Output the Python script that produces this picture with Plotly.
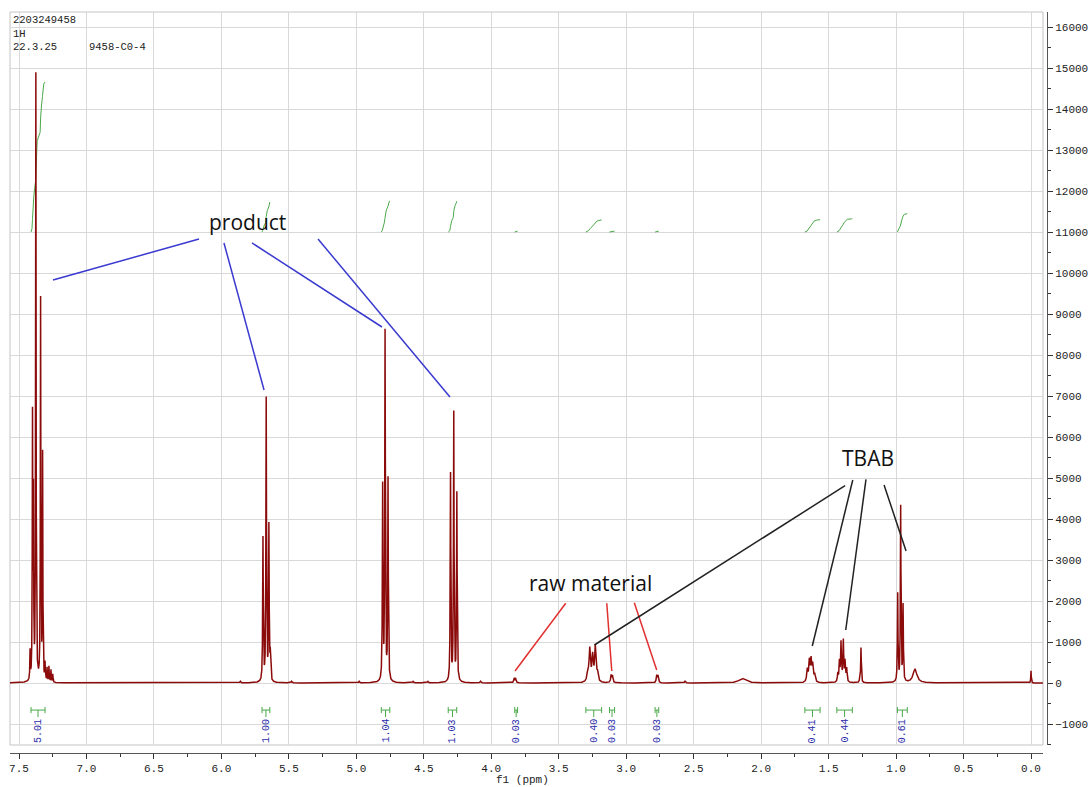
import numpy as np
import plotly.graph_objects as go

# ---------------- spectrum peak list: position (ppm), height, line width (ppm) ----------------
aromatic_ppm = [7.418, 7.400, 7.393, 7.375, 7.340, 7.325, 7.307, 7.292, 7.278, 7.263, 7.250]
aromatic_h = [700, 6300, 4300, 14800, 9300, 5500, 420, 330, 380, 300, 200]

ch_ppm = [5.692, 5.668, 5.648, 5.638]
ch_h = [3500, 6900, 3780, 600]

och2_a_ppm = [4.805, 4.787, 4.765]
och2_a_h = [4740, 8500, 4920]

och2_b_ppm = [4.302, 4.278, 4.255]
och2_b_h = [5070, 6550, 4590]

raw_ppm = [3.830, 3.820, 3.112, 3.102, 2.774, 2.764, 2.564]
raw_h = [110, 110, 180, 170, 180, 170, 50]

ncH2_ppm = [3.285, 3.270, 3.249, 3.229, 3.213]
ncH2_h = [250, 790, 620, 850, 200]

tbab_a_ppm = [1.658, 1.643, 1.630, 1.618, 1.603]
tbab_a_h = [300, 500, 520, 400, 180]

tbab_b_ppm = [1.432, 1.420, 1.408, 1.391, 1.378, 1.366]
tbab_b_h = [200, 480, 950, 1000, 480, 320]

ch3_ppm = [1.268, 1.260, 0.988, 0.966, 0.948]
ch3_h = [150, 850, 2150, 4280, 1850]

broad_ppm = [0.860, 2.140]
broad_h = [330, 110]

tms_ppm = [0.0]
tms_h = [300]

minor_ppm = [5.86, 5.48, 4.98, 4.58, 4.47, 4.08]
minor_h = [40, 40, 40, 35, 35, 40]

# ---------------- integration regions ----------------
int_from = [7.411, 5.699, 4.815, 4.319, 3.826, 3.299, 3.124, 2.786, 1.676, 1.439, 0.990]
int_to = [7.307, 5.641, 4.752, 4.256, 3.805, 3.182, 3.086, 2.759, 1.563, 1.324, 0.917]
int_val = [5.01, 1.00, 1.04, 1.03, 0.03, 0.40, 0.03, 0.03, 0.41, 0.44, 0.61]

# ---------------- axes ----------------
X_LEFT, X_RIGHT = 7.5667, -0.0889
Y_LOW, Y_HIGH = -1512, 16366

groups = [
    (aromatic_ppm, aromatic_h, 0.004),
    (ch_ppm, ch_h, 0.005),
    (och2_a_ppm, och2_a_h, 0.005),
    (och2_b_ppm, och2_b_h, 0.005),
    (raw_ppm, raw_h, 0.008),
    (ncH2_ppm, ncH2_h, 0.012),
    (tbab_a_ppm, tbab_a_h, 0.010),
    (tbab_b_ppm, tbab_b_h, 0.007),
    (ch3_ppm, ch3_h, 0.005),
    (broad_ppm[:1], broad_h[:1], 0.035),
    (broad_ppm[1:], broad_h[1:], 0.060),
    (tms_ppm, tms_h, 0.004),
    (minor_ppm, minor_h, 0.008),
]

ppm = np.arange(X_LEFT, X_RIGHT, -0.0002)
spec = np.zeros_like(ppm)
for pos, hts, w in groups:
    for p, h in zip(pos, hts):
        spec += h / (1.0 + ((ppm - p) / (w / 2.0)) ** 2)

fig = go.Figure()

# integral curves (each starts from a common offset)
INT_BASE = 11000
INT_SCALE = 730
for a, b, v in zip(int_from, int_to, int_val):
    m = (ppm <= a) & (ppm >= b)
    cs = np.cumsum(spec[m])
    cs = cs / cs[-1]
    fig.add_trace(go.Scatter(x=ppm[m], y=INT_BASE + INT_SCALE * v * cs, mode="lines",
                             line=dict(color="#4aa84a", width=1), hoverinfo="skip"))

# spectrum
fig.add_trace(go.Scatter(x=ppm, y=spec, mode="lines",
                         line=dict(color="#8b0a0a", width=1.5), hoverinfo="skip"))

# integration brackets below the baseline
BR_Y, BR_TICK, BR_STEM, LBL_Y = -660, 75, -830, -1171
bx, by = [], []
for a, b in zip(int_from, int_to):
    c = (a + b) / 2
    bx += [a, a, None, a, b, None, b, b, None, c, c, None]
    by += [BR_Y - BR_TICK, BR_Y + BR_TICK, None, BR_Y, BR_Y, None,
           BR_Y - BR_TICK, BR_Y + BR_TICK, None, BR_Y, BR_STEM, None]
fig.add_trace(go.Scatter(x=bx, y=by, mode="lines", line=dict(color="#4aa84a", width=1),
                         hoverinfo="skip"))

annotations = []
for a, b, v in zip(int_from, int_to, int_val):
    annotations.append(dict(x=(a + b) / 2, y=LBL_Y, xref="x", yref="y", text=f"{v:.2f}",
                            textangle=-90, showarrow=False,
                            font=dict(family="Liberation Mono", size=10, color="#2b2bab")))

# callout lines
callouts = [
    ("#3a3ad0", [(6.166, 10829, 7.248, 9829), (5.981, 10732, 5.684, 7146),
                 (5.773, 10732, 4.810, 8683), (5.284, 10829, 4.306, 6976)]),
    ("#e03030", [(3.448, 1944, 3.824, 293), (3.144, 1944, 3.107, 293),
                 (2.940, 1959, 2.774, 317)]),
    ("#222222", [(3.236, 927, 1.378, 4812), (1.321, 4951, 1.621, 902),
                 (1.223, 4968, 1.373, 1293), (1.089, 4829, 0.926, 3220)]),
]
shapes = [dict(type="rect", xref="x domain", yref="y domain", x0=0, x1=1, y0=0, y1=1,
               line=dict(color="#c4c4c4", width=1), layer="below")]
for col, segs in callouts:
    for x0, y0, x1, y1 in segs:
        shapes.append(dict(type="line", xref="x", yref="y", x0=x0, y0=y0, x1=x1, y1=y1,
                           line=dict(color=col, width=1.5)))

label_font = dict(family="Open Sans", size=21, color="#111111")
annotations += [
    dict(x=5.803, y=11244, xref="x", yref="y", text="product", showarrow=False, font=label_font),
    dict(x=3.268, y=2439, xref="x", yref="y", text="raw material", showarrow=False, font=label_font),
    dict(x=1.208, y=5488, xref="x", yref="y", text="TBAB", showarrow=False, font=label_font),
]

# header block and axis title, placed in pixel terms
W, H = 1091, 787
ML, MR, MT, MB = 10, 44, 12, 34


def px(xp):
    return (xp - ML) / (W - ML - MR)


def py(yp):
    return (H - MB - yp) / (H - MT - MB)


hdr_font = dict(family="Liberation Mono", size=10.5, color="#222222")
for text, xp, yp in [("2203249458", 11, 20), ("1H", 11, 34), ("22.3.25", 11, 47),
                     ("9458-C0-4", 87, 47)]:
    annotations.append(dict(x=px(xp), y=py(yp), xref="paper", yref="paper", text=text,
                            showarrow=False, xanchor="left", yanchor="middle", font=hdr_font))
annotations.append(dict(x=px(522), y=py(780), xref="paper", yref="paper", text="f1 (ppm)",
                        showarrow=False, xanchor="center", yanchor="middle",
                        font=dict(family="Liberation Mono", size=11, color="#222222")))

tick_font = dict(family="Liberation Mono", size=11, color="#222222")
fig.update_layout(
    width=W, height=H,
    margin=dict(l=ML, r=MR, t=MT, b=MB, autoexpand=False),
    paper_bgcolor="white", plot_bgcolor="white",
    showlegend=False,
    shapes=shapes,
    annotations=annotations,
    xaxis=dict(range=[X_LEFT, X_RIGHT], domain=[0, (1043 - ML) / (W - ML - MR)],
               anchor="free", position=0, automargin=False,
               showgrid=True, gridcolor="#d9d9d9", gridwidth=1,
               tick0=0, dtick=0.5, tickformat=".1f",
               ticks="outside", ticklen=5, tickcolor="#333333", tickwidth=1,
               showline=True, linecolor="#555555", linewidth=1, zeroline=False,
               minor=dict(dtick=0.25, ticks="outside", ticklen=3, tickcolor="#333333",
                          showgrid=False),
               tickfont=tick_font),
    yaxis=dict(range=[Y_LOW, Y_HIGH], domain=[py(745), 1],
               side="right", anchor="free", position=1, automargin=False,
               showgrid=True, gridcolor="#d9d9d9", gridwidth=1,
               tick0=0, dtick=1000, tickformat="d",
               ticks="outside", ticklen=5, tickcolor="#333333", tickwidth=1,
               showline=True, linecolor="#555555", linewidth=1, zeroline=False,
               minor=dict(dtick=500, ticks="outside", ticklen=3, tickcolor="#333333",
                          showgrid=False),
               tickfont=tick_font),
)

fig.write_html("out.html")
